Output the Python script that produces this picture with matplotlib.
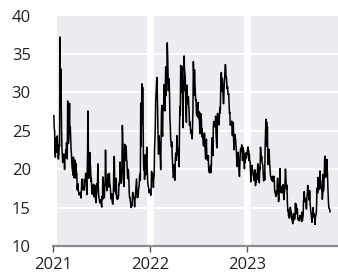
import numpy as np
import pandas as pd
import matplotlib.pyplot as plt
import matplotlib.dates as mdates

plt.rcParams['font.family'] = ['Open Sans', 'DejaVu Sans']

# daily closes (trading days, grouped by year)
vix_2021 = [
    26.97, 25.34, 25.07, 22.37, 21.56, 24.08, 23.33, 22.21, 23.25, 24.34, 23.24, 21.58, 21.32, 21.91, 23.19, 23.02, 37.21, 30.21, 33.09,
    30.24, 25.56, 22.91, 21.77, 20.87, 21.24, 21.63, 21.99, 21.25, 19.97, 21.46, 21.50, 22.49, 22.05, 23.45, 23.11, 21.34, 28.89, 27.95,
    23.35, 24.10, 26.67, 28.57, 24.66, 25.47, 24.03, 22.56, 21.91, 20.69, 20.03, 19.79, 19.23, 21.58, 20.95, 18.88, 20.30, 21.20, 19.81, 18.86, 20.74, 19.61, 19.40,
    17.33, 17.91, 18.12, 17.16, 16.95, 16.69, 16.91, 16.65, 16.99, 16.57, 16.25, 17.29, 18.68, 17.50, 18.71, 17.33, 17.64, 17.56, 17.28, 17.61, 18.61,
    18.31, 19.48, 19.15, 18.39, 16.69, 19.66, 21.84, 27.59, 23.13, 18.81, 19.72, 21.34, 22.18, 20.67, 20.15, 18.40, 18.84, 17.36, 16.74, 16.76,
    17.90, 17.48, 18.04, 16.42, 16.42, 17.07, 17.89, 16.10, 15.65, 16.39, 17.02, 18.15, 17.75, 20.70, 17.89, 16.66, 16.32, 15.97, 15.62, 15.76, 16.02, 15.83,
    15.48, 15.07, 16.44, 16.20, 19.00, 16.18, 16.17, 17.12, 16.33, 17.89, 18.45, 22.50, 19.73, 17.91, 17.69, 17.20, 17.58, 19.36, 18.31, 17.70, 18.24,
    19.46, 18.04, 17.97, 17.28, 16.15, 16.72, 16.79, 16.06, 15.59, 15.45, 16.12, 17.91, 21.57, 21.67, 18.56, 17.15, 17.22, 16.79, 18.84, 16.39, 16.11, 16.48,
    16.11, 16.41, 16.41, 18.08, 17.96, 18.80, 20.95, 19.37, 19.46, 18.18, 18.69, 20.81, 25.71, 24.36, 20.87, 18.63, 17.75, 18.76, 23.25, 22.56, 23.14,
    21.15, 22.96, 21.30, 20.90, 19.54, 18.77, 20.00, 19.85, 18.64, 16.86, 16.30, 16.30, 15.70, 15.49, 15.01, 15.43, 15.24, 15.98, 16.98, 16.53, 16.26,
    16.41, 16.03, 15.10, 16.00, 16.48, 17.22, 17.78, 18.73, 17.66, 16.29, 16.49, 16.37, 17.11, 17.59, 17.91, 19.17, 19.38, 18.58, 28.62, 22.96, 27.19,
    31.12, 26.09, 30.67, 27.18, 21.89, 19.90, 21.58, 18.69, 20.31, 21.89, 19.29, 20.57, 21.57, 22.87, 20.31, 18.63, 17.96, 17.68, 17.54, 16.95, 17.33, 17.22,
]
vix_2022 = [
    16.60, 16.91, 19.73, 19.61, 18.76, 19.40, 18.41, 17.62, 18.83, 19.19, 22.79, 23.85, 25.59, 28.85, 29.90, 31.16, 31.96, 30.49, 27.66, 24.83,
    21.96, 22.09, 24.35, 23.22, 22.86, 21.44, 19.96, 23.91, 27.36, 28.33, 24.87, 24.29, 28.11, 27.75, 28.81, 31.02, 30.32, 27.59, 30.15,
    33.32, 29.57, 30.48, 31.98, 36.45, 35.13, 32.45, 30.23, 30.75, 31.77, 29.83, 26.67, 25.67, 23.87, 23.53, 22.94, 23.57, 21.67, 20.81, 19.63, 18.90, 19.33, 20.56,
    19.63, 18.57, 21.03, 22.10, 21.55, 21.16, 24.37, 24.26, 21.82, 22.70, 22.17, 21.37, 20.32, 25.42, 28.21, 27.02, 33.52, 31.60, 29.99, 33.40,
    32.34, 29.25, 25.42, 31.20, 30.19, 34.75, 32.99, 32.56, 31.77, 28.87, 27.47, 26.10, 30.96, 29.35, 29.43, 28.48, 29.45, 28.37, 27.50, 25.72, 26.19,
    25.69, 24.72, 24.79, 25.07, 24.02, 23.96, 26.09, 27.75, 34.02, 32.69, 29.62, 32.95, 31.13, 30.19, 28.95, 29.05, 27.23, 26.95, 28.36, 28.16, 28.71,
    26.70, 27.54, 26.73, 26.08, 24.64, 26.17, 27.29, 26.82, 26.40, 24.23, 25.30, 24.50, 23.88, 23.11, 23.03, 23.36, 24.69, 23.24, 22.33, 21.33,
    22.84, 23.93, 21.95, 21.44, 21.15, 21.29, 21.77, 19.74, 20.20, 19.53, 19.95, 19.69, 20.52, 19.56, 20.60, 23.80, 24.11, 22.82, 21.78, 25.56, 26.21, 26.21, 25.87,
    25.56, 25.47, 26.91, 24.64, 23.61, 22.79, 23.87, 27.27, 26.16, 26.27, 26.30, 25.76, 27.16, 27.99, 27.35, 29.92, 32.26, 32.60, 30.18, 31.84, 31.62,
    30.10, 28.55, 28.55, 30.52, 31.36, 32.45, 33.63, 33.57, 31.94, 32.02, 31.37, 30.50, 30.76, 29.98, 29.69, 29.85, 28.46, 27.28, 27.39, 25.75, 25.88,
    25.81, 25.86, 26.27, 24.55, 24.35, 25.54, 26.09, 23.53, 22.52, 23.73, 24.54, 24.11, 23.93, 23.12, 22.36, 21.13, 20.35, 20.50, 22.21, 21.89, 20.58,
    19.84, 19.06, 20.75, 22.01, 22.68, 22.29, 22.83, 23.17, 22.55, 21.14, 22.83, 22.62, 22.42, 21.37, 20.07, 21.97, 20.87, 21.65, 22.14, 21.44, 21.67,
]
vix_2023 = [
    22.90, 22.01, 22.46, 21.13, 21.97, 21.09, 21.03, 19.48, 18.35, 19.36, 20.34, 20.52, 19.85, 19.81, 19.20, 19.03, 18.73, 18.51, 19.94, 19.40,
    17.87, 18.73, 18.33, 19.43, 18.66, 19.63, 20.71, 20.53, 20.34, 18.91, 18.23, 20.17, 20.02, 22.87, 22.29, 21.14, 21.67, 20.95, 20.70,
    20.58, 19.59, 18.49, 18.60, 19.59, 18.61, 22.61, 24.80, 26.52, 23.73, 26.14, 22.99, 25.51, 21.38, 20.61, 22.26, 22.61, 21.74, 20.60, 19.97, 19.12, 19.02, 18.70,
    18.55, 18.58, 19.08, 18.40, 18.97, 18.97, 19.09, 18.48, 17.07, 16.95, 16.83, 16.46, 17.17, 16.77, 16.89, 18.76, 18.84, 17.03, 15.78,
    16.08, 17.78, 18.34, 20.09, 17.19, 16.98, 17.71, 16.94, 16.93, 17.03, 17.12, 17.99, 16.87, 16.05, 16.81, 17.21, 18.53, 20.03, 19.14, 17.95, 17.46, 17.94,
    15.65, 14.60, 14.73, 13.96, 13.94, 13.65, 13.83, 15.01, 15.01, 14.55, 14.50, 13.54, 13.88, 13.20, 12.91, 13.44, 14.25, 13.74, 13.43, 13.54, 13.59,
    15.58, 14.18, 15.44, 14.83, 14.84, 14.84, 13.54, 13.61, 13.34, 13.48, 13.30, 13.76, 13.99, 13.60, 13.91, 13.86, 13.19, 14.41, 13.33, 13.63,
    13.93, 15.99, 15.92, 17.10, 15.77, 15.99, 16.20, 15.85, 14.84, 14.82, 16.46, 16.78, 17.89, 17.30, 17.13, 16.97, 15.98, 17.20, 15.68, 15.08, 14.45, 14.09, 13.57,
    13.09, 14.02, 14.45, 15.00, 13.84, 13.80, 14.23, 13.48, 12.82, 13.79, 14.00, 14.11, 15.14, 17.54, 17.20, 16.90, 18.94, 18.22, 17.34, 17.52,
    17.61, 19.78, 18.58, 18.49, 17.45, 17.70, 17.03, 16.09, 16.69, 19.32, 17.21, 17.88, 19.22, 21.40, 21.71, 20.37, 18.97, 20.19, 20.68, 21.27, 19.75, 18.14,
    16.87, 15.66, 14.91, 14.89, 14.81, 14.45,
]
year_spans = [('2021-01-04', '2021-12-31'), ('2022-01-03', '2022-12-30'), ('2023-01-03', '2023-11-08')]
year_ticks = ['2021', '2022', '2023']

dates = []
for (start, end), vals in zip(year_spans, [vix_2021, vix_2022, vix_2023]):
    dates.append(pd.date_range(start, end, periods=len(vals)))
dates = dates[0].append(dates[1]).append(dates[2])
values = np.array(vix_2021 + vix_2022 + vix_2023)

fig = plt.figure(figsize=(3.38, 2.74), dpi=100)
ax = fig.add_axes([0.157, 0.102, 0.843, 0.841])
ax.set_facecolor('#ececf1')

ax.set_ylim(10, 40)
ax.set_xlim(pd.Timestamp('2021-01-01'), pd.Timestamp('2023-12-08'))

for y in [15, 20, 25, 30, 35]:
    ax.axhline(y, color='white', lw=1.4, zorder=1)
for yr in year_ticks:
    ax.axvline(pd.Timestamp(yr + '-01-01'), color='white', lw=5, zorder=1)

ax.plot(dates, values, color='black', lw=1.1, zorder=3)

for side in ['top', 'right', 'left']:
    ax.spines[side].set_visible(False)
ax.spines['bottom'].set_color('#8c8c8c')
ax.spines['bottom'].set_linewidth(1.6)
ax.spines['bottom'].set_zorder(4)

ax.set_xticks([pd.Timestamp(yr + '-01-01') for yr in year_ticks])
ax.xaxis.set_major_formatter(mdates.DateFormatter('%Y'))
ax.set_yticks([10, 15, 20, 25, 30, 35, 40])
ax.tick_params(axis='x', length=4, width=1, color='#555555', pad=4,
               labelsize=12, labelcolor='#222222')
ax.tick_params(axis='y', length=0, pad=16, labelsize=12, labelcolor='#222222')

plt.savefig('out.png', dpi=100)
